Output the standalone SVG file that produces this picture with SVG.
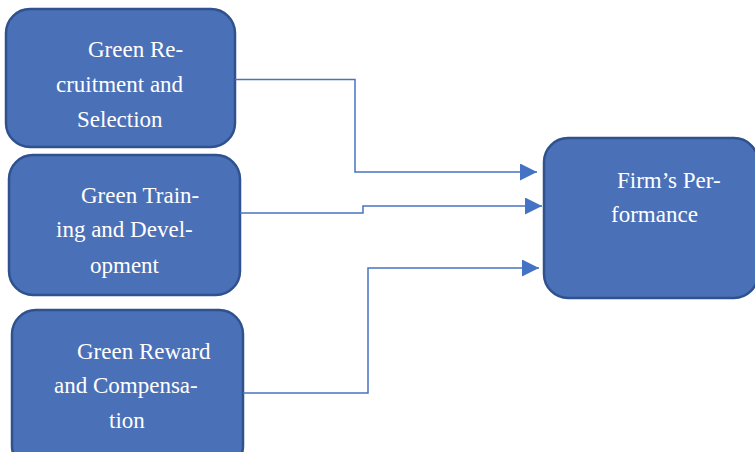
<svg xmlns="http://www.w3.org/2000/svg" width="755" height="452" viewBox="0 0 755 452">
  <style>
    .box { fill: #4A70B8; stroke: #2F528F; stroke-width: 2.5; }
    .wire { fill: none; stroke: #4A72C0; stroke-width: 1.5; }
  </style>
  <defs>
    <marker id="arrow" markerUnits="userSpaceOnUse" markerWidth="18" markerHeight="18" refX="17" refY="8.5" orient="auto">
      <path d="M0,0 L17,8.5 L0,17 Z" fill="#4472C4"/>
    </marker>
  </defs>
  <rect width="755" height="452" fill="#FFFFFF"/>

  <g font-family="'Liberation Serif', 'Times New Roman', Times, serif" font-size="23" fill="#FFFFFF">
    <g id="recruitment">
      <rect class="box" x="6" y="9" width="229" height="138" rx="24"/>
      <text x="88" y="57">Green Re-</text>
      <text x="56" y="92">cruitment and</text>
      <text x="77" y="127">Selection</text>
    </g>

    <g id="training">
      <rect class="box" x="9" y="155" width="231" height="140" rx="24"/>
      <text x="81" y="203">Green Train-</text>
      <text x="56" y="237">ing and Devel-</text>
      <text x="90" y="273">opment</text>
    </g>

    <g id="reward">
      <rect class="box" x="12" y="310" width="231" height="160" rx="24"/>
      <text x="77" y="359">Green Reward</text>
      <text x="54" y="393">and Compensa-</text>
      <text x="109" y="428">tion</text>
    </g>

    <g id="performance">
      <rect class="box" x="544" y="138" width="214" height="160" rx="24"/>
      <text x="617" y="188">Firm’s Per-</text>
      <text x="611" y="222">formance</text>
    </g>
  </g>

  <g id="connectors">
    <polyline class="wire" points="235,79.5 355,79.5 355,172 537,172" marker-end="url(#arrow)"/>
    <polyline class="wire" points="240,213 363,213 363,206 542,206" marker-end="url(#arrow)"/>
    <polyline class="wire" points="243,393 368,393 368,268 539,268" marker-end="url(#arrow)"/>
  </g>
</svg>
